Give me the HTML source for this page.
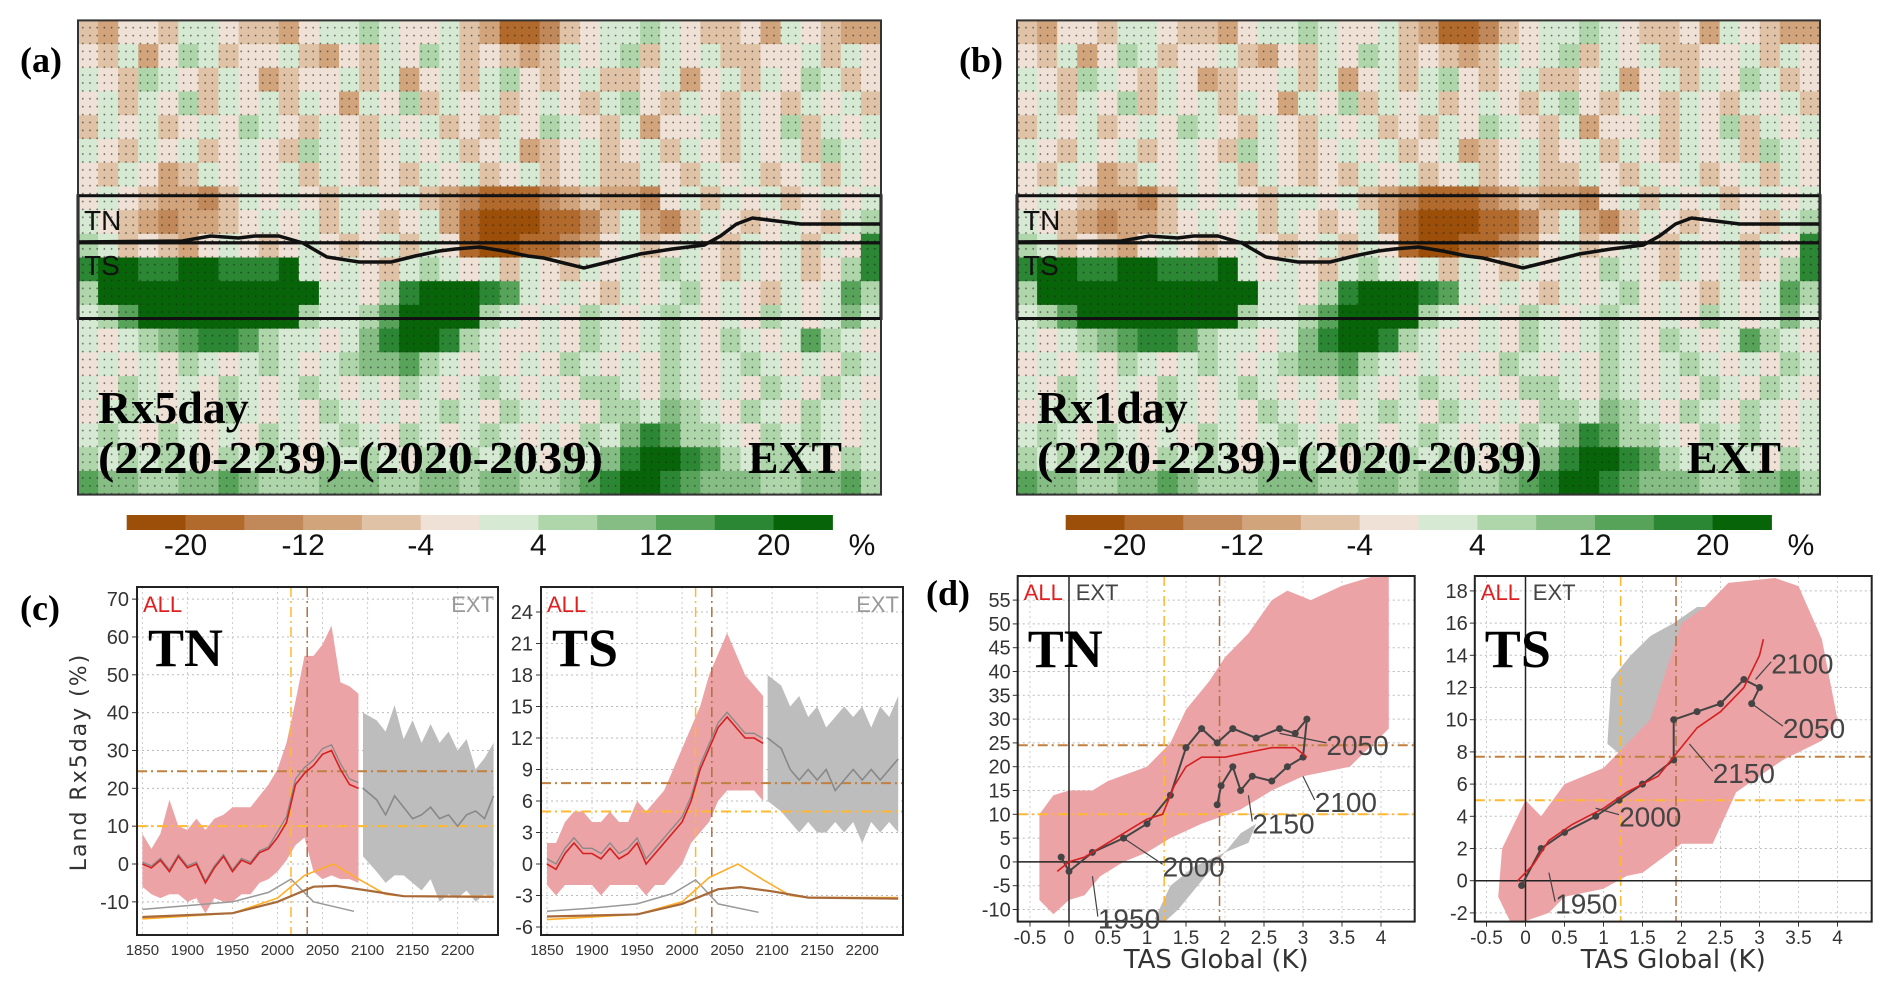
<!DOCTYPE html>
<html><head><meta charset="utf-8">
<style>
html,body{margin:0;padding:0;background:#fff;}
svg{display:block;}
text{font-family:"Liberation Sans Narrow","Liberation Sans",sans-serif;}
.serif{font-family:"Liberation Serif",serif;font-weight:bold;}
</style></head>
<body>
<svg id="fig" xmlns="http://www.w3.org/2000/svg" width="1892" height="991" viewBox="0 0 1892 991">
<defs>
<pattern id="stip" x="0" y="0" width="7.2" height="7.9" patternUnits="userSpaceOnUse">
<circle cx="3.6" cy="4" r="0.9" fill="#222" fill-opacity="0.65"/>
</pattern>
</defs>
</svg>
<script>
// ---------- map data (12 colour classes a..l, brown -> green) ----------
const mapRows = [
"edffeggfeedfgghgffgedbbcefgghgfeefdgfedd",
"fegdfhgeffgedfegfhgefedegfghegfgeeffgegf",
"gfehgfegfdeffgegdfgeghfefgeefgdfgegfhgef",
"fgegfhegfgegfdgfhegfgefgfeghfegfegfegfge",
"egfgefgfhgfegfegfgefegfhgfegdffgegfhegfg",
"gfegfgefgfehgfefgfgefgdefgefgegfegfgehgf",
"fegfdegfgfgegfefegfgefgefgeegfegfgefgegf",
"fgfeddcegfgfeggfgedcbbbcdeddcfgegfgefgfg",
"gfedcddefgfgegfefgdbaaabbcegdcegfefgfegh",
"hgefedfgfefgfefgegfbaabbcdfgefgfegfgegfk",
"kllkkllkkklgfgfeghgfgegfegfgfhgfegfgefhk",
"hlllllllllllggfhklllkjgfgfegfghfgfegfgjh",
"ghjllllllllhgghjllllhgfgfhgfghgfgfhgfgig",
"gfghijkkjhggfgikllkhgffgfhgfghgfhgfgjhgf",
"fgfgfhgfghgfghiijhgfgfgfhgfgfhgfghgfgfhg",
"gfhgfgfhgfghgfgfhgfghgfgfhhgfhgfgfhgfhgf",
"fghgfgfhgfgfhgfgfghgfhgfgfhhgihgfhgfhgfg",
"ghgfhgfgfhgfghgfhgfghgfgfhgikjhhgfhghgfg",
"hghghgfhghgfhghgfhghghgfhgikllkjhghhgfhg",
"jiihhiijihhhiiihhiihiihhijkllkjiiihhiijh"
];
const cbLabels = ["-20","-12","-4","4","12","20"];
const cbColors = ["#9c4f08","#b16a2c","#c1895a","#d2a47c","#e0c3a6","#efe1d5","#d6ead3","#afd6ab","#86bd84","#58a35a","#2b8733","#086408"];

// ---------- chart (c) data ----------
const yearsAll = [1850,1860,1870,1880,1890,1900,1910,1920,1930,1940,1950,1960,1970,1980,1990,2000,2010,2020,2030,2040,2050,2060,2070,2080,2090];
const yearsExt = [2095,2110,2120,2130,2140,2150,2160,2170,2180,2190,2200,2210,2220,2230,2240];
const tnAllMean = [0,-1,1,-2,2,-1,0,-5,-1,2,-2,1,0,3,4,7,11,21,24,26,29,30,25,21,20];
const tnAllHi = [8,4,8,17,10,9,12,9,12,13,15,15,15,18,21,25,32,43,55,55,58,63,48,47,45];
const tnAllLo = [-6,-8,-9,-8,-8,-10,-9,-13,-9,-10,-10,-8,-8,-5,-4,-2,1,5,7,-2,-4,-3,-4,-4,-5];
const tnExtMean = [20,17,13,18,15,12,13,15,12,13,10,13,14,12,18];
const tnExtHi = [40,38,35,42,33,38,32,37,32,35,30,33,25,28,32];
const tnExtLo = [2,-2,-5,-3,-3,-5,-7,-4,-10,-8,-9,-7,-10,-8,-9];
const tsAllMean = [0,-0.5,1,2,1,1,0.5,1.5,0.5,1,2,0,1,2,3,4,6,9,11,13,14,13,12,12,11.5];
const tsAllHi = [2,2,4,5,5,4,4,5,4,4,6,5,6,7,9,11,13,15,18,20,22,20,18,17,16];
const tsAllLo = [-2,-3,-2,-2,-2,-2,-3,-2,-2,-2,-2,-3,-2,-2,-1,0,2,3,4,6,7,7,7,7,6];
const tsExtMean = [12,11,9,8,9,8,9,7,8,9,8,9,8,9,10];
const tsExtHi = [18,17,15,16,14,15,13,14,15,14,15,13,15,14,16];
const tsExtLo = [6,5,4,3,4,3,3,4,3,4,2,4,3,4,3];
const curveGreyYears = [1850,1900,1950,1990,2015,2040,2085];
const tnCurveGrey = [-12,-11,-10,-7.5,-4,-10,-12.5];
const tsCurveGrey = [-4.5,-4.2,-3.8,-2.8,-1.5,-3.8,-4.6];
const curveOrYears = [1850,1950,2000,2030,2062,2090,2120,2140,2240];
const tnCurveOrange = [-14.5,-13,-9,-3,0,-4,-8,-8.5,-8.5];
const tsCurveOrange = [-5.3,-4.8,-3.6,-1.3,0,-1.5,-3,-3.2,-3.2];
const curveBrYears = [1850,1950,2000,2040,2065,2100,2140,2240];
const tnCurveBrown = [-14,-13,-10,-6,-5.8,-7,-8.5,-8.7];
const tsCurveBrown = [-5,-4.8,-3.8,-2.4,-2.2,-2.6,-3.2,-3.3];
const cYearTicks = [1850,1900,1950,2000,2050,2100,2150,2200];
const tnYTicks = [-10,0,10,20,30,40,50,60,70];
const tsYTicks = [-6,-3,0,3,6,9,12,15,18,21,24];
const tnThresh = [24.5,10];
const tsThresh = [7.7,5];
const vYears = [2015,2033];

// ---------- chart (d) data ----------
const dXTicks = [-0.5,0,0.5,1,1.5,2,2.5,3,3.5,4];
const dTnYTicks = [-10,-5,0,5,10,15,20,25,30,35,40,45,50,55];
const dTsYTicks = [-2,0,2,4,6,8,10,12,14,16,18];
const dTnPinkX = [-0.38,-0.38,-0.2,0,0.3,0.5,1,1.3,1.5,1.8,2,2.3,2.6,2.8,3.1,3.5,4.1,4.1,3.6,3.0,2.6,2.2,1.7,1.3,1,0.7,0.4,0.2,0,-0.2];
const dTnPinkY = [-8,10,14,15,15,17,20,25,32,38,43,48,55,57,55,58,61,28,20,18,15,11,8,5,2,0,-3,-7,-8,-11];
const dTnGreyX = [1.1,1.3,1.6,2.0,2.3,2.4,2.2,1.8,1.4,1.2];
const dTnGreyY = [-12,-5,-1,2,4,8,6,-2,-10,-13];
const dTnRedX = [-0.15,0,0.2,0.4,0.6,0.8,1,1.2,1.35,1.5,1.7,2,2.3,2.6,2.9,3.05];
const dTnRedY = [-2,0,1,3,5,7,9,10,16,20,22,22,23,24,24,22];
const dTnDarkX = [-0.1,0,0.3,0.7,1.0,1.3,1.5,1.7,1.9,2.1,2.4,2.7,2.9,3.05,3.0,2.8,2.6,2.35,2.2,2.1,1.95,1.9];
const dTnDarkY = [1,-2,2,5,8,14,24,28,25,28,26,28,27,30,22,20,17,18,15,20,16,12];
const dTsPinkX = [-0.35,-0.3,-0.2,0,0.2,0.5,1,1.2,1.6,1.8,2.0,2.3,2.6,3.2,3.5,3.8,4.0,3.8,3.3,2.7,2.4,2.0,1.5,1.3,1.0,0.5,0.3,0,-0.2];
const dTsPinkY = [-1,2,3,5,4,6,7,8,10,13,16,17,18.5,18.8,18.3,15,10,8.7,7.5,5.5,2.3,2.3,0.5,0.3,-0.5,-1,-2,-2.5,-2.5];
const dTsGreyX = [1.3,1.05,1.1,1.35,1.6,1.9,2.2,2.4,2.0];
const dTsGreyY = [7.5,8.5,12.5,14,15.2,16,17,17,10];
const dTsRedX = [-0.1,0.1,0.3,0.6,1,1.3,1.7,1.95,2.2,2.5,2.8,3.0,3.05];
const dTsRedY = [0,1,2.5,3.5,4.5,5.5,6.5,8,9.5,10.5,12,14,15];
const dTsDarkX = [-0.05,0.2,0.5,0.9,1.2,1.5,1.9,1.9,2.2,2.5,2.8,3.0,2.9];
const dTsDarkY = [-0.3,2,3,4,5,6,7.5,10,10.5,11,12.5,12,11];
const dTnLabels = ["2050","2100","2150","2000","1950"];
const dTnLabX = [3.3,3.15,2.35,1.2,0.37];
const dTnLabY = [25,13,8.5,-0.5,-11.5];
const dTnLeadX = [2.7,3.0,2.3,0.7,0.3];
const dTnLeadY = [27,18,14,5,-3];
const dTsLabels = ["2100","2050","2150","2000","1950"];
const dTsLabX = [3.15,3.3,2.4,1.2,0.38];
const dTsLabY = [13.6,9.6,6.8,4.1,-1.3];
const dTsLeadX = [2.95,2.9,2.1,0.9,0.3];
const dTsLeadY = [12.5,11,8.5,4.5,0.5];

const NS = "http://www.w3.org/2000/svg";
const svg = document.getElementById('fig');
function mk(tag, attrs, name, parent){
  const el = document.createElementNS(NS, tag);
  for (const k in attrs) el.setAttribute(k, attrs[k]);
  
  
  (parent||svg).appendChild(el);
  return el;
}
function txt(x,y,s,size,fill,name,extra){
  const a = Object.assign({x:x,y:y,'font-size':size,fill:fill}, extra||{});
  const t = mk('text', a, name);
  t.textContent = s;
  return t;
}
function pts(xs,ys,fx,fy){ return xs.map((v,i)=>fx(v).toFixed(1)+','+fy(ys[i]).toFixed(1)).join(' '); }

// ---------- maps ----------
function drawMap(ox, label, title){
  const X0=ox, Y0=20.4, W=803, H=474.2;
  const cols=40, rows=mapRows.length, cw=W/cols, ch=H/rows;
  const g = mk('g',{},'map-'+label);
  mapRows.forEach((r,ri)=>{
    for(let ci=0;ci<cols;ci++){
      const idx = r.charCodeAt(ci)-97;
      mk('rect',{x:(X0+ci*cw).toFixed(1),y:(Y0+ri*ch).toFixed(1),width:(cw+0.6).toFixed(1),height:(ch+0.6).toFixed(1),fill:cbColors[Math.max(0,Math.min(11,idx))]},'map-cell',g);
    }
  });
  mk('rect',{x:X0,y:Y0,width:W,height:H,fill:'url(#stip)'},'significance-stippling',g);
  const lx=[0,0.13,0.165,0.2,0.22,0.25,0.28,0.31,0.35,0.39,0.42,0.45,0.47,0.5,0.53,0.56,0.58,0.6,0.63,0.66,0.7,0.74,0.78,0.8,0.82,0.84,0.87,0.9,1];
  const ly=[242,241,236,238,236,236,243,257,262,262,256,251,249,247,251,256,258,262,268,262,254,249,245,236,224,218,221,224,224];
  mk('polyline',{points:lx.map((v,i)=>(X0+v*W).toFixed(1)+','+ly[i]).join(' '),fill:'none',stroke:'#111','stroke-width':3.5},'boundary-line',g);
  mk('rect',{x:X0,y:195.7,width:W,height:47.1,fill:'none',stroke:'#111','stroke-width':3},'tn-region-box',g);
  mk('rect',{x:X0,y:242.8,width:W,height:75.7,fill:'none',stroke:'#111','stroke-width':3},'ts-region-box',g);
  mk('rect',{x:X0,y:Y0,width:W,height:H,fill:'none',stroke:'#333','stroke-width':2},'map-frame',g);
  txt(X0+6,230,'TN',28,'#111','tn-region-label');
  txt(X0+6,275,'TS',28,'#111','ts-region-label');
  txt(X0+20,423,title,46,'#000','index-title',{class:'serif'});
  txt(X0+20,473,'(2220-2239)-(2020-2039)',46,'#000','period-title',{class:'serif',textLength:505,lengthAdjust:'spacingAndGlyphs'});
  txt(X0+670,473,'EXT',46,'#000','scenario-label',{class:'serif',textLength:94,lengthAdjust:'spacingAndGlyphs'});
  txt(X0-58,72,label,36,'#000','panel-label',{class:'serif'});
  const cx0=X0+48.7, cwid=705.7/12;
  cbColors.forEach((c,i)=>{ mk('rect',{x:(cx0+i*cwid).toFixed(1),y:515,width:(cwid+0.5).toFixed(1),height:15,fill:c},'colorbar-swatch',g); });
  cbLabels.forEach((s,i)=>{ txt(cx0+(2*i+1)*cwid,555,s,30,'#111','colorbar-label',{'text-anchor':'middle'}); });
  txt(X0+784,555,'%',30,'#111','colorbar-unit',{'text-anchor':'middle'});
}
drawMap(78,'(a)','Rx5day');
drawMap(1017,'(b)','Rx1day');

// ---------- chart (c) ----------
function drawC(L, R, yr0px, ticks, yscale, d, name){
  const T=587, B=935;
  const fx = y => yr0px + (y-1850)*0.9006;
  const fy = v => 864 - v*yscale;
  const g = mk('g',{},'timeseries-'+name);
  ticks.forEach(t=>{ mk('line',{x1:L,x2:R,y1:fy(t),y2:fy(t),stroke:'#bbb','stroke-dasharray':'2,3'},'grid-line',g);
    mk('line',{x1:L-5,x2:L,y1:fy(t),y2:fy(t),stroke:'#333'},'y-tick',g);
    txt(L-8,fy(t)+7,String(t),20,'#333','y-tick-label',{'text-anchor':'end'}); });
  cYearTicks.forEach(t=>{ mk('line',{x1:fx(t),x2:fx(t),y1:T,y2:B,stroke:'#ccc','stroke-dasharray':'2,3'},'grid-line',g);
    txt(fx(t),955,String(t),15,'#333','x-tick-label',{'text-anchor':'middle'}); });
  mk('polygon',{points:pts(yearsExt.concat(yearsExt.slice().reverse()), d.eHi.concat(d.eLo.slice().reverse()),fx,fy),fill:'#bdbdbd'},'ext-spread-band',g);
  mk('polygon',{points:pts(yearsAll.concat(yearsAll.slice().reverse()), d.aHi.concat(d.aLo.slice().reverse()),fx,fy),fill:'#eca3a6'},'all-spread-band',g);
  mk('line',{x1:L,x2:R,y1:fy(d.th[0]),y2:fy(d.th[0]),stroke:'#c08040','stroke-width':2,'stroke-dasharray':'10,4,2,4'},'threshold-brown',g);
  mk('line',{x1:L,x2:R,y1:fy(d.th[1]),y2:fy(d.th[1]),stroke:'#ffb830','stroke-width':2,'stroke-dasharray':'10,4,2,4'},'threshold-orange',g);
  mk('line',{x1:fx(vYears[0]),x2:fx(vYears[0]),y1:T,y2:B,stroke:'#ffb830','stroke-width':1.5,'stroke-dasharray':'10,4,2,4'},'year-marker-orange',g);
  mk('line',{x1:fx(vYears[1]),x2:fx(vYears[1]),y1:T,y2:B,stroke:'#b07040','stroke-width':1.5,'stroke-dasharray':'10,4,2,4'},'year-marker-brown',g);
  mk('polyline',{points:pts(yearsExt,d.eMean,fx,fy),fill:'none',stroke:'#888','stroke-width':1.6},'ext-mean-line',g);
  mk('polyline',{points:pts(yearsAll,d.aMean.map(v=>v+(v>5?1.5*(yscale>5?0.3:1):0.5)),fx,fy),fill:'none',stroke:'#888','stroke-width':1.3},'all-grey-member-line',g);
  mk('polyline',{points:pts(yearsAll,d.aMean,fx,fy),fill:'none',stroke:'#d42020','stroke-width':1.6},'all-mean-line',g);
  mk('polyline',{points:pts(curveGreyYears,d.cg,fx,fy),fill:'none',stroke:'#999','stroke-width':1.5},'weight-curve-grey',g);
  mk('polyline',{points:pts(curveOrYears,d.co,fx,fy),fill:'none',stroke:'#ffae2a','stroke-width':1.6},'weight-curve-orange',g);
  mk('polyline',{points:pts(curveBrYears,d.cb,fx,fy),fill:'none',stroke:'#a86a38','stroke-width':2.2},'weight-curve-brown',g);
  mk('rect',{x:L,y:T,width:R-L,height:B-T,fill:'none',stroke:'#222','stroke-width':2},'plot-frame',g);
  txt(L+6,612,'ALL',22,'#e02020','legend-all');
  txt(R-4,612,'EXT',22,'#999','legend-ext',{'text-anchor':'end'});
  txt(L+11,666,name,54,'#000','region-title',{class:'serif'});
}
drawC(137,498,142.4,tnYTicks,3.784,{aMean:tnAllMean,aHi:tnAllHi,aLo:tnAllLo,eMean:tnExtMean,eHi:tnExtHi,eLo:tnExtLo,th:tnThresh,cg:tnCurveGrey,co:tnCurveOrange,cb:tnCurveBrown},'TN');
drawC(541,903,547,tsYTicks,10.5,{aMean:tsAllMean,aHi:tsAllHi,aLo:tsAllLo,eMean:tsExtMean,eHi:tsExtHi,eLo:tsExtLo,th:tsThresh,cg:tsCurveGrey,co:tsCurveOrange,cb:tsCurveBrown},'TS');
txt(40,620,'(c)',36,'#000','panel-label-c',{class:'serif','text-anchor':'middle'});
txt(86,762,'Land  Rx5day  (%)',22,'#333','y-axis-title',{'text-anchor':'middle',transform:'rotate(-90 86 762)',style:'font-family:"DejaVu Sans",sans-serif;letter-spacing:2px'});

// ---------- chart (d) ----------
function drawD(L,R,x0px,y0px,ysc,ticks,d,name){
  const T=576, B=921.6;
  const fx = v => x0px + v*78;
  const fy = v => y0px - v*ysc;
  const g = mk('g',{},'scatter-'+name);
  const cp = mk('clipPath',{id:'clip'+name},'clip',g);
  mk('rect',{x:L,y:T,width:R-L,height:B-T},'clip-rect',cp);
  ticks.forEach(t=>{ mk('line',{x1:L,x2:R,y1:fy(t),y2:fy(t),stroke:'#bbb','stroke-dasharray':'2,3'},'grid-line',g);
    mk('line',{x1:L-5,x2:L,y1:fy(t),y2:fy(t),stroke:'#333'},'y-tick',g);
    txt(L-7,fy(t)+7,String(t),20,'#333','y-tick-label',{'text-anchor':'end'}); });
  dXTicks.forEach(t=>{ mk('line',{x1:fx(t),x2:fx(t),y1:T,y2:B,stroke:'#ccc','stroke-dasharray':'2,3'},'grid-line',g);
    mk('line',{x1:fx(t),x2:fx(t),y1:B,y2:B+5,stroke:'#333'},'x-tick',g);
    txt(fx(t),944,String(t),19,'#333','x-tick-label',{'text-anchor':'middle'}); });
  const cg = mk('g',{'clip-path':'url(#clip'+name+')'},'plot-area',g);
  mk('polygon',{points:pts(d.gx,d.gy,fx,fy),fill:'#bdbdbd'},'ext-spread-area',cg);
  mk('polygon',{points:pts(d.px,d.py,fx,fy),fill:'#eca3a6'},'all-spread-area',cg);
  mk('line',{x1:L,x2:R,y1:fy(d.th[0]),y2:fy(d.th[0]),stroke:'#c08040','stroke-width':2,'stroke-dasharray':'10,4,2,4'},'threshold-brown',cg);
  mk('line',{x1:L,x2:R,y1:fy(d.th[1]),y2:fy(d.th[1]),stroke:'#ffb830','stroke-width':2,'stroke-dasharray':'10,4,2,4'},'threshold-orange',cg);
  mk('line',{x1:fx(1.22),x2:fx(1.22),y1:T,y2:B,stroke:'#ffb830','stroke-width':1.5,'stroke-dasharray':'10,4,2,4'},'warming-marker-orange',cg);
  mk('line',{x1:fx(1.93),x2:fx(1.93),y1:T,y2:B,stroke:'#b07040','stroke-width':1.5,'stroke-dasharray':'10,4,2,4'},'warming-marker-brown',cg);
  mk('line',{x1:fx(0),x2:fx(0),y1:T,y2:B,stroke:'#222','stroke-width':1.5},'zero-x-line',cg);
  mk('line',{x1:L,x2:R,y1:fy(0),y2:fy(0),stroke:'#222','stroke-width':1.5},'zero-y-line',cg);
  mk('polyline',{points:pts(d.dx,d.dy,fx,fy),fill:'none',stroke:'#444','stroke-width':2},'ext-trajectory',cg);
  d.dx.forEach((v,i)=>{ mk('circle',{cx:fx(v),cy:fy(d.dy[i]),r:3.5,fill:'#444'},'ext-point',cg); });
  mk('polyline',{points:pts(d.rx,d.ry,fx,fy),fill:'none',stroke:'#d42020','stroke-width':1.6},'all-trajectory',cg);
  d.lab.forEach((s,i)=>{
    mk('line',{x1:fx(d.lx[i]),y1:fy(d.ly[i]),x2:fx(d.tx[i]),y2:fy(d.ty[i]),stroke:'#444','stroke-width':1.2},'year-leader-line',cg);
    txt(fx(d.lx[i]),fy(d.ly[i])+12,s,28,'#444','year-annotation');
  });
  mk('rect',{x:L,y:T,width:R-L,height:B-T,fill:'none',stroke:'#222','stroke-width':2},'plot-frame',g);
  txt(L+6,600,'ALL',22,'#e02020','legend-all');
  txt(L+58,600,'EXT',22,'#444','legend-ext');
  txt(L+10,667,name,54,'#000','region-title',{class:'serif'});
  txt((L+R)/2,968,'TAS  Global  (K)',26,'#333','x-axis-title',{'text-anchor':'middle',style:'font-family:"DejaVu Sans",sans-serif'});
}
drawD(1017.7,1414.7,1069,861.9,4.76,dTnYTicks,{px:dTnPinkX,py:dTnPinkY,gx:dTnGreyX,gy:dTnGreyY,rx:dTnRedX,ry:dTnRedY,dx:dTnDarkX,dy:dTnDarkY,th:tnThresh,lab:dTnLabels,lx:dTnLabX,ly:dTnLabY,tx:dTnLeadX,ty:dTnLeadY},'TN');
drawD(1474.8,1871.7,1525.5,880.7,16.1,dTsYTicks,{px:dTsPinkX,py:dTsPinkY,gx:dTsGreyX,gy:dTsGreyY,rx:dTsRedX,ry:dTsRedY,dx:dTsDarkX,dy:dTsDarkY,th:tsThresh,lab:dTsLabels,lx:dTsLabX,ly:dTsLabY,tx:dTsLeadX,ty:dTsLeadY},'TS');
txt(948,605,'(d)',36,'#000','panel-label-d',{class:'serif','text-anchor':'middle'});
</script>
</body></html>
